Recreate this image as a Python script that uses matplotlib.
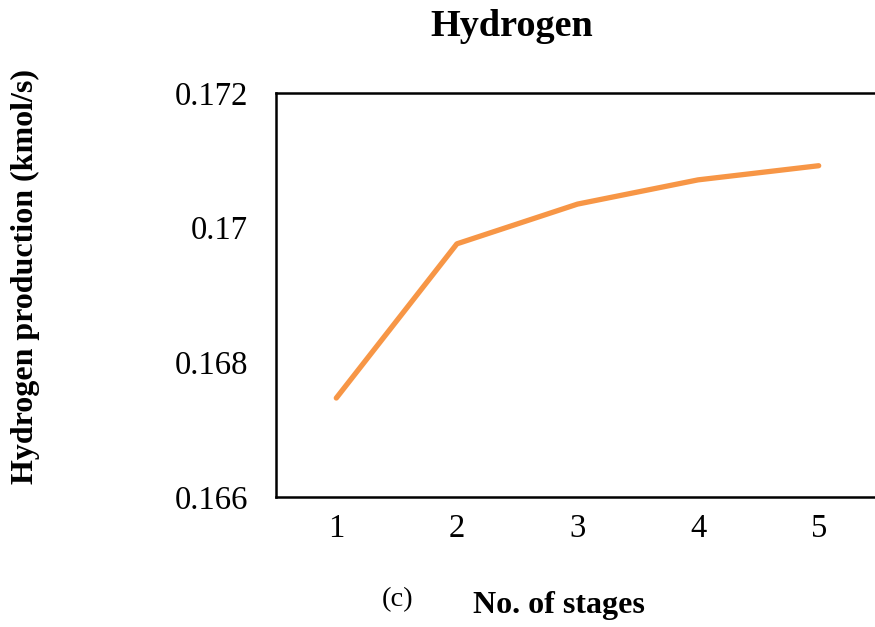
import matplotlib
matplotlib.use("Agg")
import matplotlib.pyplot as plt

stages = [1, 2, 3, 4, 5]
hydrogen = [0.16747, 0.16976, 0.17035, 0.17071, 0.17092]
y_ticks = [0.166, 0.168, 0.170, 0.172]
y_tick_labels = ["0.166", "0.168", "0.17", "0.172"]

plt.rcParams["font.family"] = ["Liberation Serif", "DejaVu Serif"]

W, H = 875, 627
fig = plt.figure(figsize=(W / 100, H / 100), dpi=100)
# plot area runs past the right edge of the canvas
ax = fig.add_axes([276 / W, (H - 497) / H, (879 - 276) / W, (497 - 93) / H])

ax.plot(stages, hydrogen, color="#F79646", linewidth=3.8, solid_capstyle="round")
ax.set_xlim(0.5, 5.5)
ax.set_ylim(0.166, 0.172)
ax.set_xticks(stages)
ax.set_yticks(y_ticks)
ax.set_yticklabels(y_tick_labels)
ax.tick_params(axis="both", length=0, labelsize=23.5)
ax.tick_params(axis="x", pad=12)
ax.tick_params(axis="y", pad=20)
for spine in ax.spines.values():
    spine.set_linewidth(1.8)

fig.text(512 / W, 1 - 27 / H, "Hydrogen", ha="center", va="center",
         fontsize=27.5, fontweight="bold")
fig.text(25 / W, 1 - 277 / H, "Hydrogen production (kmol/s)", ha="center",
         va="center", rotation=90, fontsize=23, fontweight="bold")
fig.text(559 / W, 1 - 605 / H, "No. of stages", ha="center", va="center",
         fontsize=23, fontweight="bold")
fig.text(398 / W, 1 - 600 / H, "(c)", ha="center", va="center", fontsize=20.5)

fig.savefig("out.png", dpi=100)
